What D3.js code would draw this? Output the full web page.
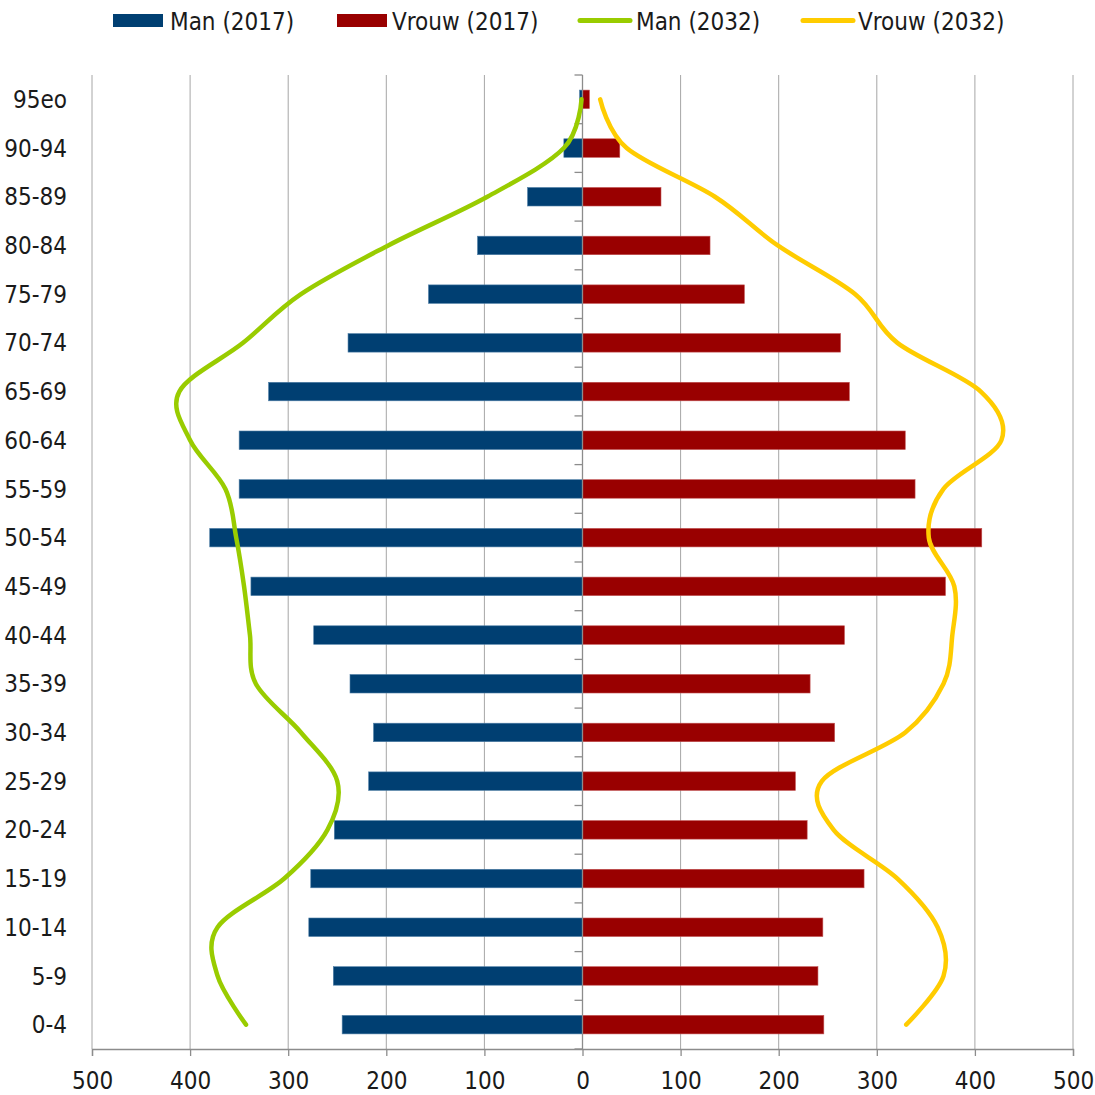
<!DOCTYPE html>
<html><head><meta charset="utf-8">
<script src="https://cdn.jsdelivr.net/npm/d3@7"></script>
<style>
html,body{margin:0;padding:0;background:#fff;}
text{font-family:"Liberation Sans Narrow","DejaVu Sans Condensed","Liberation Sans",Arial,sans-serif;fill:#1a1a1a;}
</style></head>
<body><svg id="c" width="1095" height="1095"></svg>
<script>
const categories = ["95eo","90-94","85-89","80-84","75-79","70-74","65-69","60-64","55-59","50-54","45-49","40-44","35-39","30-34","25-29","20-24","15-19","10-14","5-9","0-4"];
const man2017   = [3,19,56,107,157,239,320,350,350,380,338,274,237,213,218,253,277,279,254,245];
const vrouw2017 = [7,38,80,130,165,263,272,329,339,407,370,267,232,257,217,229,287,245,240,246];
const man2032   = [1,19,97,198,287,346,411,400,364,353,345,339,333,287,250,260,304,372,372,343];
const vrouw2032 = [18,45,135,199,278,321,406,427,368,353,379,377,368,329,244,256,321,362,368,330];
const xTicks = [-500,-400,-300,-200,-100,0,100,200,300,400,500];
const seriesNames = ["Man (2017)","Vrouw (2017)","Man (2032)","Vrouw (2032)"];
const colors = {man17:"#003f72", vrouw17:"#990000", man32:"#99cc00", vrouw32:"#ffcc00"};

(function(){
const svg = d3.select("#c");
const pl = 92, pr = 1073, pt = 75, pb = 1049;
const FS = 24;
const x = d3.scaleLinear().domain([-500,500]).range([pl,pr]);
const y = d3.scaleBand().domain(categories).range([pt,pb]).paddingInner(0.62).paddingOuter(0.31);
const yc = d => y(d) + y.bandwidth()/2;
const step = (pb-pt)/categories.length;

// gridlines
svg.append("g").selectAll("line").data(xTicks.filter(t=>t!==0)).join("line")
  .attr("x1",d=>x(d)).attr("x2",d=>x(d)).attr("y1",pt).attr("y2",pb)
  .attr("stroke","#a6a6a6").attr("stroke-width",1);

// bars
svg.append("g").selectAll("rect").data(categories).join("rect")
  .attr("x",(d,i)=>x(-man2017[i])).attr("width",(d,i)=>x(0)-x(-man2017[i]))
  .attr("y",d=>y(d)).attr("height",y.bandwidth())
  .attr("fill",colors.man17).attr("stroke","#4f7fa6").attr("stroke-width",0.6);
svg.append("g").selectAll("rect").data(categories).join("rect")
  .attr("x",x(0)).attr("width",(d,i)=>x(vrouw2017[i])-x(0))
  .attr("y",d=>y(d)).attr("height",y.bandwidth())
  .attr("fill",colors.vrouw17).attr("stroke","#c05050").attr("stroke-width",0.6);

// center axis with ticks
const ca = svg.append("g").attr("transform",`translate(${x(0)},0)`);
ca.append("line").attr("x1",0).attr("x2",0).attr("y1",pt).attr("y2",pb).attr("stroke","#8c8c8c").attr("stroke-width",1.3);
ca.selectAll("line.t").data(d3.range(categories.length+1)).join("line").attr("class","t")
  .attr("x1",-8).attr("x2",0).attr("y1",i=>pt+i*step).attr("y2",i=>pt+i*step)
  .attr("stroke","#8c8c8c").attr("stroke-width",1.3);

// lines
const line = d3.line().curve(d3.curveCardinal.tension(0));
svg.append("path").attr("d",line(categories.map((c,i)=>[x(-man2032[i]),yc(c)])))
  .attr("fill","none").attr("stroke",colors.man32).attr("stroke-width",4.5).attr("stroke-linecap","round");
svg.append("path").attr("d",line(categories.map((c,i)=>[x(vrouw2032[i]),yc(c)])))
  .attr("fill","none").attr("stroke",colors.vrouw32).attr("stroke-width",4.5).attr("stroke-linecap","round");

// y labels
svg.append("g").selectAll("text").data(categories).join("text")
  .attr("x",67).attr("y",d=>yc(d)).attr("dy","0.36em").attr("text-anchor","end")
  .attr("font-size",FS).text(d=>d);

// bottom axis
const xAxis = d3.axisBottom(x).tickValues(xTicks).tickFormat(d=>Math.abs(d)).tickSize(7).tickPadding(16);
const ga = svg.append("g").attr("transform",`translate(0,${pb})`).call(xAxis);
ga.select(".domain").attr("stroke","#8c8c8c").attr("stroke-width",1.3);
ga.selectAll(".tick line").attr("stroke","#8c8c8c").attr("stroke-width",1.3);
ga.selectAll(".tick text").attr("font-size",FS).attr("fill","#1a1a1a")
  .style("font-family",'"Liberation Sans Narrow","DejaVu Sans Condensed","Liberation Sans",Arial,sans-serif');

// legend
const lg = svg.append("g");
const items = [
  {name:seriesNames[0],type:"rect",c:colors.man17,sx:113,tx:170},
  {name:seriesNames[1],type:"rect",c:colors.vrouw17,sx:337,tx:392},
  {name:seriesNames[2],type:"line",c:colors.man32,sx:578,tx:636},
  {name:seriesNames[3],type:"line",c:colors.vrouw32,sx:801,tx:858}];
items.forEach(it=>{
  if(it.type==="rect") lg.append("rect").attr("x",it.sx).attr("y",14).attr("width",50).attr("height",13).attr("fill",it.c);
  else lg.append("line").attr("x1",it.sx+2).attr("x2",it.sx+52).attr("y1",20.5).attr("y2",20.5).attr("stroke",it.c).attr("stroke-width",5).attr("stroke-linecap","round");
  lg.append("text").attr("x",it.tx).attr("y",21).attr("dy","0.36em").attr("font-size",FS).text(it.name);
});
})();
</script></body></html>
